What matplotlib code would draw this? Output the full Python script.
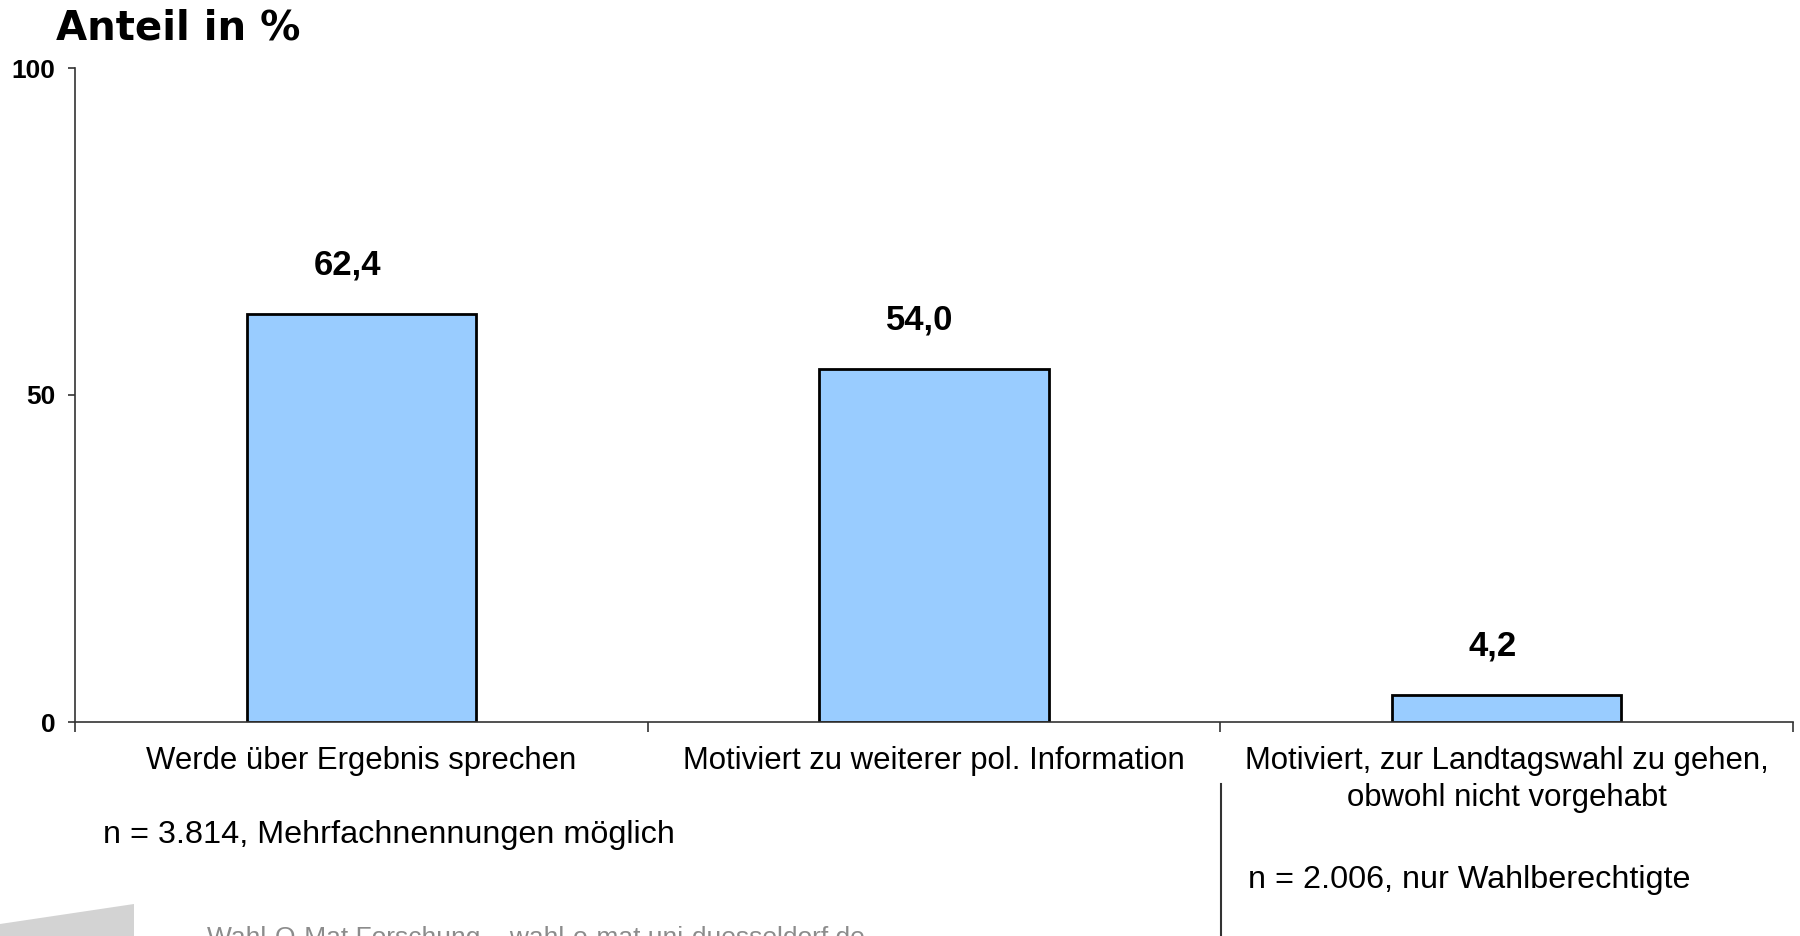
import matplotlib.pyplot as plt
from matplotlib.patches import Polygon

# data
categories = [
    "Werde über Ergebnis sprechen",
    "Motiviert zu weiterer pol. Information",
    "Motiviert, zur Landtagswahl zu gehen,\nobwohl nicht vorgehabt",
]
values = [62.4, 54.0, 4.2]
value_labels = ["62,4", "54,0", "4,2"]
y_ticks = [0, 50, 100]

BAR_COLOR = "#99CCFF"
W, H = 1800, 936


def main() -> None:
    fig = plt.figure(figsize=(W / 100, H / 100), dpi=100)
    ax = fig.add_axes([75 / W, (H - 722) / H, (1793 - 75) / W, (722 - 68) / H])

    x = list(range(len(categories)))
    ax.bar(x, values, width=0.4, color=BAR_COLOR, edgecolor="black", linewidth=2)

    for xi, v, lab in zip(x, values, value_labels):
        ax.annotate(lab, (xi, v), xytext=(-10, 35), textcoords="offset points",
                    ha="center", va="center", fontsize=25, fontweight="bold",
                    family="Liberation Sans")

    ax.set_xlim(-0.5, len(categories) - 0.5)
    ax.set_ylim(0, 100)

    for side in ("top", "right"):
        ax.spines[side].set_visible(False)
    for side in ("left", "bottom"):
        ax.spines[side].set_color("#333333")
        ax.spines[side].set_linewidth(1.2)

    ax.set_yticks(y_ticks)
    ax.set_yticklabels([str(t) for t in y_ticks], fontsize=19, fontweight="bold",
                       family="Liberation Sans")
    ax.tick_params(axis="y", length=5, width=1.2, color="#333333", pad=9)

    # major ticks at category boundaries, labels on minor ticks
    ax.set_xticks([i - 0.5 for i in range(len(categories) + 1)])
    ax.set_xticklabels([])
    ax.tick_params(axis="x", which="major", length=7, width=1.2, color="#333333")
    ax.set_xticks(x, minor=True)
    ax.set_xticklabels(categories, minor=True, fontsize=22.4, family="Liberation Sans",
                       linespacing=1.3)
    ax.tick_params(axis="x", which="minor", length=0, pad=17)

    fig.text(56 / W, 1 - 28 / H, "Anteil in %", fontsize=29, fontweight="bold",
             family="DejaVu Sans", va="center", ha="left")

    fig.text(103 / W, 1 - 835 / H, "n = 3.814, Mehrfachnennungen möglich",
             fontsize=23.3, family="Liberation Sans", va="center", ha="left")
    fig.text(1248 / W, 1 - 880 / H, "n = 2.006, nur Wahlberechtigte",
             fontsize=23.3, family="Liberation Sans", va="center", ha="left")

    # divider line under the third category
    fig.add_artist(plt.Line2D([1221 / W, 1221 / W], [1 - 784 / H, 0],
                              color="#333333", linewidth=1.5))

    # footer with grey logo patch
    fig.add_artist(Polygon([[0, 1 - 924 / H], [134 / W, 1 - 904 / H],
                            [134 / W, 0], [0, 0]], closed=True,
                           transform=fig.transFigure, facecolor="#d3d3d3",
                           edgecolor="none"))
    fig.text(207 / W, 1 - 926 / H,
             "Wahl-O-Mat Forschung – wahl-o-mat.uni-duesseldorf.de",
             fontsize=19, family="Liberation Sans", color="#8c8c8c",
             va="top", ha="left")

    fig.savefig("out.png", dpi=100)


if __name__ == "__main__":
    main()
